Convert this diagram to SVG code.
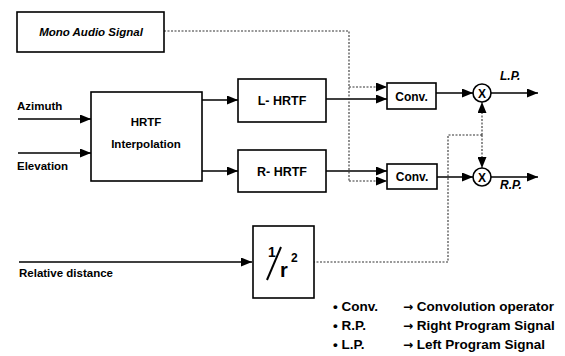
<svg xmlns="http://www.w3.org/2000/svg" width="565" height="356" viewBox="0 0 565 356">
<style>
  .box { fill: #ffffff; stroke: #000000; stroke-width: 1.6; }
  .lbl { font-family: "Liberation Sans", Arial, sans-serif; font-weight: bold; fill: #000000; }
  .it { font-style: italic; }
  .ar { font-family: "DejaVu Sans", sans-serif; font-weight: bold; }
  .solid { stroke: #000000; stroke-width: 1.6; fill: none; }
  .dot { stroke: #333333; stroke-width: 1.1; fill: none; stroke-dasharray: 2 1.5; }
</style>
<defs>
  <marker id="arr" markerUnits="userSpaceOnUse" markerWidth="11" markerHeight="9" refX="11" refY="4.5" orient="auto">
    <path d="M0,0 L11,4.5 L0,9 z" fill="#000000"/>
  </marker>
</defs>
<rect width="565" height="356" fill="#ffffff"/>

<g id="connectors">
  <line class="solid" x1="18" y1="119" x2="91" y2="119" marker-end="url(#arr)"/>
  <line class="solid" x1="18" y1="153" x2="91" y2="153" marker-end="url(#arr)"/>
  <line class="solid" x1="19" y1="262" x2="252" y2="262" marker-end="url(#arr)"/>
  <line class="solid" x1="202" y1="100" x2="238" y2="100" marker-end="url(#arr)"/>
  <line class="solid" x1="202" y1="171" x2="238" y2="171" marker-end="url(#arr)"/>
  <line class="solid" x1="326" y1="99" x2="387" y2="99" marker-end="url(#arr)"/>
  <line class="solid" x1="326" y1="171" x2="387" y2="171" marker-end="url(#arr)"/>
  <polyline class="dot" points="164,31 349,31 349,181"/>
  <line class="dot" x1="349" y1="87" x2="387" y2="87" marker-end="url(#arr)"/>
  <line class="dot" x1="349" y1="181" x2="387" y2="181" marker-end="url(#arr)"/>
  <line class="solid" x1="436" y1="93" x2="473" y2="93" marker-end="url(#arr)"/>
  <line class="solid" x1="437" y1="177" x2="473" y2="177" marker-end="url(#arr)"/>
  <line class="solid" x1="491" y1="93" x2="538" y2="93" marker-end="url(#arr)"/>
  <line class="solid" x1="491" y1="177" x2="538" y2="177" marker-end="url(#arr)"/>
  <polyline class="dot" points="313,262 448,262 448,135 482,135"/>
  <line class="dot" x1="482" y1="135" x2="482" y2="102" marker-end="url(#arr)"/>
  <line class="dot" x1="482" y1="135" x2="482" y2="168" marker-end="url(#arr)"/>
</g>

<g id="mono">
  <rect class="box" x="17" y="12" width="147" height="40"/>
  <text class="lbl it" x="91" y="36" font-size="11.5" text-anchor="middle">Mono Audio Signal</text>
</g>

<g id="azimuth">
  <text class="lbl" x="17" y="110" font-size="11.5">Azimuth</text>
</g>
<g id="elevation">
  <text class="lbl" x="17" y="170" font-size="11.5">Elevation</text>
</g>
<g id="distance">
  <text class="lbl" x="19" y="277" font-size="11.5">Relative distance</text>
</g>

<g id="hrtf-interp">
  <rect class="box" x="91" y="92" width="111" height="89"/>
  <text class="lbl" x="146" y="126" font-size="11.5" text-anchor="middle">HRTF</text>
  <text class="lbl" x="146" y="148" font-size="11.5" text-anchor="middle">Interpolation</text>
</g>

<g id="l-hrtf">
  <rect class="box" x="238" y="79" width="88" height="43"/>
  <text class="lbl" x="282" y="105" font-size="12.5" text-anchor="middle">L- HRTF</text>
</g>
<g id="r-hrtf">
  <rect class="box" x="238" y="150" width="88" height="42"/>
  <text class="lbl" x="282" y="176" font-size="12.5" text-anchor="middle">R- HRTF</text>
</g>

<g id="conv-l">
  <rect class="box" x="387" y="83" width="49" height="26"/>
  <text class="lbl" x="411.5" y="100.5" font-size="12" text-anchor="middle">Conv.</text>
</g>
<g id="conv-r">
  <rect class="box" x="387" y="164" width="50" height="25"/>
  <text class="lbl" x="412" y="181" font-size="12" text-anchor="middle">Conv.</text>
</g>

<g id="mult-l">
  <circle cx="482" cy="93" r="9" fill="#ffffff" stroke="#000000" stroke-width="1.6"/>
  <text class="lbl" x="482" y="97.5" font-size="12" text-anchor="middle">X</text>
</g>
<g id="mult-r">
  <circle cx="482" cy="177" r="9" fill="#ffffff" stroke="#000000" stroke-width="1.6"/>
  <text class="lbl" x="482" y="181.5" font-size="12" text-anchor="middle">X</text>
</g>

<g id="lp">
  <text class="lbl it" x="500" y="80" font-size="12">L.P.</text>
</g>
<g id="rp">
  <text class="lbl it" x="500" y="189" font-size="12">R.P.</text>
</g>

<g id="inv-square">
  <rect class="box" x="253" y="226" width="61" height="72"/>
  <text class="lbl" x="268" y="257" font-size="14">1</text>
  <line x1="267" y1="280" x2="281" y2="247" stroke="#000000" stroke-width="2"/>
  <text class="lbl" x="280" y="277" font-size="20">r</text>
  <text class="lbl" x="291" y="262" font-size="12">2</text>
</g>

<g id="legend">
  <text class="lbl" x="333" y="311" font-size="13.5">• Conv.</text>
  <text class="lbl" x="403" y="311" font-size="13.5"><tspan class="ar" font-size="12">→</tspan> Convolution operator</text>
  <text class="lbl" x="333" y="330" font-size="13.5">• R.P.</text>
  <text class="lbl" x="403" y="330" font-size="13.5"><tspan class="ar" font-size="12">→</tspan> Right Program Signal</text>
  <text class="lbl" x="333" y="349" font-size="13.5">• L.P.</text>
  <text class="lbl" x="403" y="349" font-size="13.5"><tspan class="ar" font-size="12">→</tspan> Left Program Signal</text>
</g>
</svg>
